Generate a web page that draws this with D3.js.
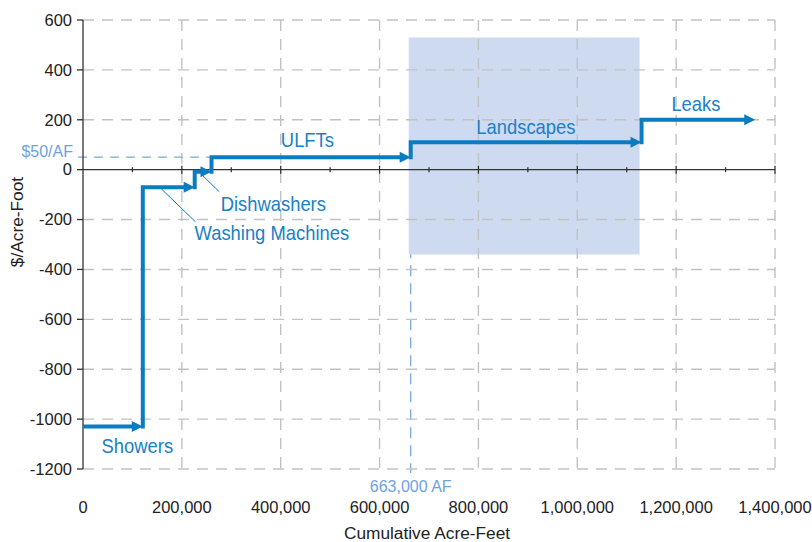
<!DOCTYPE html>
<html>
<head>
<meta charset="utf-8">
<script src="https://cdn.jsdelivr.net/npm/d3@7/dist/d3.min.js"></script>
<style>
  html, body { margin: 0; padding: 0; background: #fff; }
  svg { display: block; font-family: "Liberation Sans", Arial, Helvetica, sans-serif; }
</style>
</head>
<body>
<svg id="chart" width="812" height="542"></svg>
<script>
// Conservation measures, ordered by cost ($/acre-foot) along cumulative savings
const measures   = ["Showers", "Washing Machines", "Dishwashers", "ULFTs", "Landscapes", "Leaks"];
const segStart   = [0, 121000, 226000, 260000, 663000, 1130000];   // cumulative acre-feet
const segEnd     = [121000, 226000, 260000, 663000, 1130000, 1360000];
const segCost    = [-1030, -70, -8, 50, 110, 200];                  // $/acre-foot

// Axis ticks
const yTicks = [600, 400, 200, 0, -200, -400, -600, -800, -1000, -1200];
const xTicks = [0, 200000, 400000, 600000, 800000, 1000000, 1200000, 1400000];
const xMinorTicks = [100000, 300000, 500000, 700000, 900000, 1100000, 1300000];

// Reference values
const thresholdCost = 50;        // $50/AF
const thresholdVolume = 663000;  // 663,000 AF

// Landscape uncertainty band
const bandX = [663000, 1130000];
const bandY = [-340, 530];

const margin = { top: 20, right: 37, bottom: 73, left: 83 };
const W = 812, H = 542;

const x = d3.scaleLinear().domain([0, 1400000]).range([margin.left, W - margin.right]);
const y = d3.scaleLinear().domain([-1200, 600]).range([H - margin.bottom, margin.top]);

const svg = d3.select("#chart");
const fmt = d3.format(",");

const lineBlue = "#0b7bc2";
const labelBlue = "#1a80c8";
const refBlue = "#79a8e2";
const gridGray = "#c2c2c2";

// Measure label anchors (data units) and leader lines
const labelPos = [
  { name: "Showers",          x: 110000, y: -1105 },
  { name: "Washing Machines", x: 382000, y: -253 },
  { name: "Dishwashers",      x: 385000, y: -136 },
  { name: "ULFTs",            x: 454000, y: 120 },
  { name: "Landscapes",       x: 896000, y: 172 },
  { name: "Leaks",            x: 1240000, y: 266 }
];
const leaders = [
  { from: [156000, -72], to: [227000, -208] },
  { from: [240000, -20], to: [275000, -87] }
];

// Vertical reference line at 663,000 AF (band covers its upper part)
svg.append("line")
  .attr("x1", x(thresholdVolume)).attr("x2", x(thresholdVolume))
  .attr("y1", y(thresholdCost)).attr("y2", y(-1200) + 4)
  .attr("stroke", refBlue).attr("stroke-width", 1.3)
  .attr("stroke-dasharray", "11,7");

// Uncertainty band
svg.append("rect")
  .attr("x", x(bandX[0]) - 2)
  .attr("y", y(bandY[1]))
  .attr("width", x(bandX[1]) - x(bandX[0]))
  .attr("height", y(bandY[0]) - y(bandY[1]))
  .attr("fill", "#cddaef");

// Grid
const grid = svg.append("g").attr("stroke", gridGray).attr("stroke-width", 1.4)
  .attr("stroke-dasharray", "11,8");
grid.selectAll("line.h").data(yTicks.filter(d => d !== 0)).join("line")
  .attr("class", "h")
  .attr("x1", x(0)).attr("x2", x(1400000))
  .attr("y1", d => y(d)).attr("y2", d => y(d));
grid.selectAll("line.v").data(xTicks.filter(d => d !== 0)).join("line")
  .attr("class", "v")
  .attr("x1", d => x(d)).attr("x2", d => x(d))
  .attr("y1", y(600)).attr("y2", y(-1200));

// Horizontal reference line at $50/AF
svg.append("line")
  .attr("x1", x(0) - 5).attr("x2", x(segStart[3]))
  .attr("y1", y(thresholdCost)).attr("y2", y(thresholdCost))
  .attr("stroke", refBlue).attr("stroke-width", 1.3)
  .attr("stroke-dasharray", "9,7");

svg.append("text")
  .attr("x", 73).attr("y", y(thresholdCost) - 6)
  .attr("dy", "0.35em").attr("text-anchor", "end")
  .attr("font-size", 16).attr("fill", "#6fa2dc")
  .text("$" + thresholdCost + "/AF");

svg.append("text")
  .attr("x", x(thresholdVolume)).attr("y", 486)
  .attr("dy", "0.35em").attr("text-anchor", "middle")
  .attr("font-size", 16).attr("fill", "#6fa2dc")
  .text(fmt(thresholdVolume) + " AF");

// Y axis
const yAxis = svg.append("g");
yAxis.append("line")
  .attr("x1", x(0)).attr("x2", x(0))
  .attr("y1", y(600)).attr("y2", y(-1200))
  .attr("stroke", "#333").attr("stroke-width", 1.3);
yAxis.selectAll("line.t").data(yTicks).join("line")
  .attr("class", "t")
  .attr("x1", x(0) - 6).attr("x2", x(0))
  .attr("y1", d => y(d)).attr("y2", d => y(d))
  .attr("stroke", "#333").attr("stroke-width", 1.3);
yAxis.selectAll("text").data(yTicks).join("text")
  .attr("x", x(0) - 11).attr("y", d => y(d))
  .attr("dy", "0.35em").attr("text-anchor", "end")
  .attr("font-size", 16.5).attr("fill", "#222")
  .text(d => d);

// X axis along zero cost
const xAxis = svg.append("g");
xAxis.append("line")
  .attr("x1", x(0)).attr("x2", x(1400000))
  .attr("y1", y(0)).attr("y2", y(0))
  .attr("stroke", "#333").attr("stroke-width", 1.3);
xAxis.selectAll("line.maj").data(xTicks.filter(d => d !== 0)).join("line")
  .attr("class", "maj")
  .attr("x1", d => x(d)).attr("x2", d => x(d))
  .attr("y1", y(0) - 4).attr("y2", y(0) + 4)
  .attr("stroke", "#333").attr("stroke-width", 1.3);
xAxis.selectAll("line.min").data(xMinorTicks).join("line")
  .attr("class", "min")
  .attr("x1", d => x(d)).attr("x2", d => x(d))
  .attr("y1", y(0) - 2.5).attr("y2", y(0) + 2.5)
  .attr("stroke", "#333").attr("stroke-width", 1.3);
xAxis.selectAll("text").data(xTicks).join("text")
  .attr("x", d => x(d)).attr("y", 507)
  .attr("dy", "0.35em").attr("text-anchor", "middle")
  .attr("font-size", 16.5).attr("fill", "#222")
  .text(d => fmt(d));

// Axis titles
svg.append("text")
  .attr("x", (x(0) + x(1400000)) / 2 - 2).attr("y", 533)
  .attr("dy", "0.35em").attr("text-anchor", "middle")
  .attr("font-size", 17.3).attr("fill", "#222")
  .text("Cumulative Acre-Feet");
svg.append("text")
  .attr("transform", "translate(17,222) rotate(-90)")
  .attr("dy", "0.35em").attr("text-anchor", "middle")
  .attr("font-size", 17.3).attr("fill", "#222")
  .text("$/Acre-Foot");

// Supply-cost step line with arrowheads at each measure's end
const arrowLen = 11, arrowHalf = 5.5, lw = 4;
const steps = svg.append("g");
measures.forEach((m, i) => {
  const x0 = x(segStart[i]), x1 = x(segEnd[i]), yc = y(segCost[i]);
  const p = d3.path();
  if (i === 0) {
    p.moveTo(x0, yc);
  } else {
    p.moveTo(x0, y(segCost[i - 1]) + lw / 2);
    p.lineTo(x0, yc);
  }
  p.lineTo(x1 - arrowLen + 1, yc);
  steps.append("path")
    .attr("d", p.toString())
    .attr("fill", "none").attr("stroke", lineBlue)
    .attr("stroke-width", lw).attr("stroke-linejoin", "miter");
  steps.append("path")
    .attr("d", `M${x1},${yc}L${x1 - arrowLen},${yc - arrowHalf}L${x1 - arrowLen},${yc + arrowHalf}Z`)
    .attr("fill", lineBlue);
});

// Leader lines
svg.selectAll("line.leader").data(leaders).join("line")
  .attr("class", "leader")
  .attr("x1", d => x(d.from[0])).attr("y1", d => y(d.from[1]))
  .attr("x2", d => x(d.to[0])).attr("y2", d => y(d.to[1]))
  .attr("stroke", lineBlue).attr("stroke-width", 1);

// Measure labels (slightly condensed)
svg.selectAll("g.lab").data(labelPos).join("g")
  .attr("class", "lab")
  .attr("transform", d => `translate(${x(d.x)},${y(d.y)}) scale(0.92,1)`)
  .append("text")
  .attr("dy", "0.36em").attr("text-anchor", "middle")
  .attr("font-size", 20).attr("fill", labelBlue)
  .text(d => d.name);
</script>
</body>
</html>
